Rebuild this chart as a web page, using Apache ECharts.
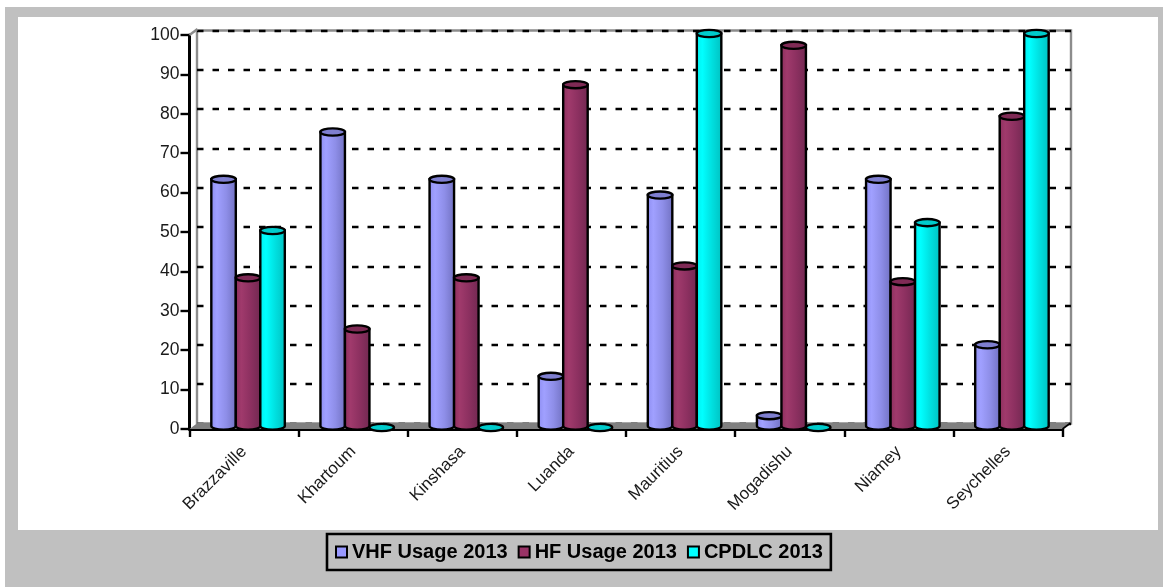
<!DOCTYPE html>
<html><head><meta charset="utf-8">
<style>html,body{margin:0;padding:0;background:#fff}#c{width:1163px;height:587px}</style>
<script src="https://cdn.jsdelivr.net/npm/echarts@6/dist/echarts.min.js"></script>
</head><body><div id="c"></div>
<script>
const categories = ['Brazzaville','Khartoum','Kinshasa','Luanda','Mauritius','Mogadishu','Niamey','Seychelles'];
const vhf = [63,75,63,13,59,3,63,21];
const hf = [38,25,38,87,41,97,37,79];
const cpdlc = [50,0,0,0,100,0,52,100];
const yTicks = [0,10,20,30,40,50,60,70,80,90,100];

const FONT = '"Liberation Sans", Arial, sans-serif';
const BAR_W = 24.5, RY = 3.6;

function cylinder(offset, colors, topColor){
  return function(params, api){
    const p = api.coord([api.value(0), api.value(1)]);
    const base = api.coord([api.value(0), 0]);
    const cx = p[0] + offset, l = cx - BAR_W/2, r = cx + BAR_W/2;
    const yt = p[1] - 1.5, yb = base[1] - 3;
    const stroke = {stroke:'#000', lineWidth:2.4};
    const k = 0.5523, rx = BAR_W/2;
    const children = [];
    if (api.value(1) > 0) {
      children.push({type:'path', shape:{
        pathData:`M${l} ${yt}L${l} ${yb}C${l} ${yb+RY*k} ${cx-rx*k} ${yb+RY} ${cx} ${yb+RY}C${cx+rx*k} ${yb+RY} ${r} ${yb+RY*k} ${r} ${yb}L${r} ${yt}Z`
      }, style:Object.assign({fill:{type:'linear',x:0,y:0,x2:1,y2:0,colorStops:colors}}, stroke)});
    }
    children.push({type:'ellipse', shape:{cx:cx, cy:yt, rx:rx, ry:RY}, style:Object.assign({fill:topColor}, stroke)});
    return {type:'group', children};
  };
}
const grad = (a,b,c,d) => [{offset:0,color:a},{offset:0.25,color:b},{offset:0.6,color:c},{offset:1,color:d}];

function decor(params, api){
  const a = api.coord([0,0]), t = api.coord([0,100]);
  const size = api.size([1,0])[0];
  const x0 = a[0]-size/2, x1 = x0 + size*categories.length;
  const dx = 8, dy = 6;
  return {type:'group', children:[
    {type:'polygon', shape:{points:[[x0,a[1]],[x0+dx,a[1]-dy],[x1+dx,a[1]-dy],[x1,a[1]]]}, style:{fill:'#808080'}},
    {type:'line', shape:{x1:x0,y1:t[1],x2:x0+dx,y2:t[1]-dy}, style:{stroke:'#8c8c8c',lineWidth:2.4}},
    {type:'line', shape:{x1:x1,y1:a[1],x2:x1+dx,y2:a[1]-dy}, style:{stroke:'#000',lineWidth:1.6}}
  ]};
}

const chart = echarts.init(document.getElementById('c'), null, {renderer:'canvas'});
chart.setOption({
  animation:false,
  backgroundColor:'#fff',
  graphic:[
    {type:'rect', z:-10, shape:{x:5,y:7,width:1158,height:580}, style:{fill:'#C0C0C0'}},
    {type:'rect', z:-9, shape:{x:18,y:17,width:1140,height:513}, style:{fill:'#fff'}}
  ],
  legend:{
    left:327, top:534, width:534, height:40, padding:[8,8,8,8],
    borderColor:'#000', borderWidth:2.6, backgroundColor:'transparent',
    itemWidth:11, itemHeight:11, itemGap:10,
    textStyle:{fontFamily:FONT, fontSize:20, fontWeight:'bold', color:'#000'},
    data:[
      {name:'VHF Usage 2013', icon:'rect', itemStyle:{color:'#9999FF',borderColor:'#000',borderWidth:2}},
      {name:'HF Usage 2013', icon:'rect', itemStyle:{color:'#993366',borderColor:'#000',borderWidth:2}},
      {name:'CPDLC 2013', icon:'rect', itemStyle:{color:'#00FFFF',borderColor:'#000',borderWidth:2}}
    ]
  },
  grid:[
    {left:189.5, top:35, width:873, height:394, show:false},
    {left:197, top:30.5, width:874, height:393, show:true, backgroundColor:'transparent', borderColor:'#8c8c8c', borderWidth:2.4, z:0}
  ],
  xAxis:[
    {type:'category', gridIndex:0, data:categories, boundaryGap:true,
     axisLine:{lineStyle:{color:'#000',width:3}},
     axisTick:{show:true, alignWithLabel:false, length:8, lineStyle:{color:'#000',width:2.4}},
     axisLabel:{rotate:45, interval:0, margin:20, fontFamily:FONT, fontSize:17, color:'#1a1a1a'}},
    {type:'category', gridIndex:1, data:categories, show:false}
  ],
  yAxis:[
    {type:'value', gridIndex:0, min:0, max:100, interval:10,
     axisLine:{show:true, lineStyle:{color:'#000',width:3}},
     axisTick:{show:true, length:9, lineStyle:{color:'#000',width:2.4}},
     axisLabel:{margin:10, fontFamily:FONT, fontSize:17.5, color:'#1a1a1a',
       formatter:(v)=> yTicks.includes(v) ? String(v) : ''},
     splitLine:{show:false}},
    {type:'value', gridIndex:1, min:0, max:100, interval:10,
     axisLine:{show:false}, axisTick:{show:false}, axisLabel:{show:false},
     splitLine:{show:true, lineStyle:{color:'#000', width:2.4, type:[6.5,9]}}, z:1}
  ],
  series:[
    {type:'custom', name:'decor', xAxisIndex:0, yAxisIndex:0, z:1, clip:false, silent:true,
     renderItem:decor, data:[[0,0]], encode:{x:0,y:1}},
    {type:'custom', name:'VHF Usage 2013', z:3, clip:false, itemStyle:{color:'#9999FF'},
     renderItem:cylinder(-20.5, grad('#8C8CF0','#A0A0FF','#8E8EE8','#7070C0'), '#7F7FD0'),
     data:vhf.map((v,i)=>[i,v]), encode:{x:0,y:1}},
    {type:'custom', name:'HF Usage 2013', z:4, clip:false, itemStyle:{color:'#993366'},
     renderItem:cylinder(4, grad('#8A2E5C','#A03A6C','#8C3060','#702850'), '#7F2A55'),
     data:hf.map((v,i)=>[i,v]), encode:{x:0,y:1}},
    {type:'custom', name:'CPDLC 2013', z:5, clip:false, itemStyle:{color:'#00FFFF'},
     renderItem:cylinder(28.5, grad('#00EEEE','#00FFFF','#00E0E0','#00C0C0'), '#00CCCC'),
     data:cpdlc.map((v,i)=>[i,v]), encode:{x:0,y:1}}
  ]
});
</script></body></html>
